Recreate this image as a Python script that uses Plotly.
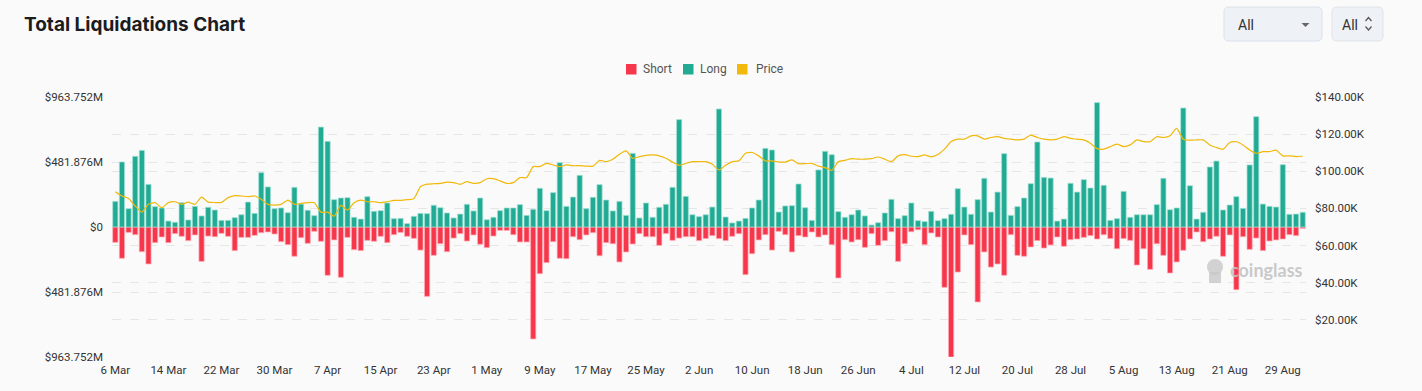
import pandas as pd
import plotly.graph_objects as go

# ---------------- data ----------------
start_date = "2025-03-06"
end_date = "2025-09-01"
dates = pd.date_range(start_date, end_date, freq="D")
categories = [d.strftime("%Y-%m-%d") for d in dates]
day_labels = [f"{d.day} {d.strftime('%b')}" for d in dates]

# Long liquidations (millions USD)
long_mar = [190, 482, 136, 524, 568, 316, 151, 141, 44, 35, 180, 52, 153, 82, 146, 126, 49, 49, 69, 91, 185, 101, 403, 297, 136, 141]
long_apr = [106, 294, 170, 124, 84, 741, 635, 203, 215, 217, 72, 59, 225, 116, 121, 178, 62, 64, 25, 79, 101, 99, 161, 143, 104, 67, 96, 168, 119, 215]
long_may = [54, 72, 121, 141, 141, 166, 86, 131, 287, 121, 255, 477, 153, 222, 383, 136, 220, 314, 200, 119, 190, 86, 546, 67, 178, 72, 146, 168, 294, 796, 227]
long_jun = [91, 77, 91, 148, 875, 74, 30, 44, 64, 141, 200, 583, 571, 111, 156, 158, 319, 143, 49, 423, 561, 536, 114, 72, 91, 126, 82, 15, 32, 104]
long_jul = [205, 62, 84, 178, 47, 40, 116, 47, 62, 94, 284, 148, 94, 203, 361, 111, 259, 544, 86, 151, 215, 321, 630, 368, 363, 44, 59, 324, 259, 351, 289]
long_aug = [922, 309, 49, 62, 264, 72, 91, 91, 91, 166, 361, 128, 141, 882, 306, 59, 109, 445, 489, 126, 163, 225, 138, 460, 818, 170, 153, 148, 462, 94, 96, 109]

# Short liquidations (millions USD)
short_mar = [114, 232, 40, 57, 183, 274, 116, 74, 116, 49, 69, 101, 59, 255, 67, 72, 47, 69, 175, 77, 77, 62, 42, 37, 52, 109]
short_apr = [131, 217, 79, 121, 32, 106, 358, 96, 373, 77, 168, 175, 99, 106, 69, 116, 57, 40, 69, 84, 171, 514, 210, 124, 183, 82, 49, 104, 59, 128]
short_may = [153, 67, 25, 25, 57, 111, 111, 830, 346, 264, 109, 232, 235, 72, 94, 59, 42, 213, 116, 124, 259, 185, 126, 49, 72, 72, 136, 49, 99, 82, 72]
short_jun = [72, 101, 86, 64, 86, 101, 69, 49, 353, 198, 96, 57, 171, 32, 57, 185, 64, 74, 37, 74, 59, 131, 378, 94, 111, 94, 151, 49, 136, 101]
short_jul = [35, 255, 124, 35, 20, 131, 44, 74, 447, 963.752, 334, 59, 131, 556, 185, 297, 274, 358, 57, 210, 217, 148, 101, 156, 133, 74, 143, 94, 89, 77, 64]
short_aug = [89, 57, 86, 161, 86, 99, 282, 161, 314, 124, 210, 341, 259, 173, 89, 37, 109, 89, 69, 217, 59, 465, 72, 166, 82, 175, 104, 96, 89, 57, 64, 10]

# BTC price (thousands USD)
price_mar = [89.0, 86.7, 85.4, 81.3, 78.0, 82.2, 83.1, 80.4, 83.1, 83.6, 82.2, 83.4, 82.2, 86.1, 83.4, 83.2, 83.2, 85.8, 86.9, 86.7, 86.3, 86.7, 84.9, 82.2, 81.8, 82.2]
price_apr = [84.5, 82.2, 82.7, 83.1, 83.1, 78.0, 78.0, 75.8, 81.6, 79.1, 83.1, 84.5, 83.6, 83.6, 83.1, 83.6, 84.3, 84.3, 84.7, 85.2, 91.7, 93.1, 93.3, 93.5, 94.2, 93.9, 93.0, 94.4, 93.5, 93.9]
price_may = [96.0, 96.0, 94.8, 93.5, 93.9, 96.6, 96.6, 102.5, 102.5, 104.3, 103.4, 102.5, 103.4, 103.0, 103.0, 102.8, 102.8, 105.9, 105.2, 106.5, 109.2, 111.0, 107.0, 107.9, 108.6, 108.8, 108.3, 107.0, 105.0, 103.2, 104.3]
price_jun = [105.2, 105.2, 105.2, 103.8, 100.7, 103.2, 105.2, 105.6, 109.7, 110.1, 108.3, 105.6, 105.6, 105.0, 105.0, 106.1, 104.1, 104.1, 104.3, 102.8, 102.0, 100.5, 105.2, 105.9, 106.8, 106.5, 106.5, 106.8, 107.7, 106.5]
price_jul = [105.2, 108.3, 109.0, 108.1, 107.9, 108.8, 107.8, 109.0, 111.9, 116.0, 117.3, 117.3, 119.1, 119.1, 117.3, 118.2, 118.7, 117.7, 117.3, 116.9, 117.3, 119.5, 118.2, 117.3, 116.9, 117.3, 118.7, 117.7, 117.3, 116.9, 115.1]
price_aug = [112.2, 111.9, 113.3, 114.6, 113.3, 114.2, 116.9, 116.0, 115.9, 118.6, 118.2, 119.1, 123.1, 117.3, 116.8, 116.9, 116.9, 114.2, 112.8, 111.9, 115.5, 115.9, 114.2, 111.5, 109.7, 110.6, 110.6, 111.4, 108.3, 108.3, 107.9, 108.1]

long_vals = long_mar + long_apr + long_may + long_jun + long_jul + long_aug
short_vals = short_mar + short_apr + short_may + short_jun + short_jul + short_aug
price_vals = price_mar + price_apr + price_may + price_jun + price_jul + price_aug

left_max = 963.752
left_ticks = [-963.752, -481.876, 0, 481.876, 963.752]
left_text = ["$963.752M", "$481.876M", "$0", "$481.876M", "$963.752M"]
right_ticks = [20, 40, 60, 80, 100, 120, 140]
right_text = ["$20.00K", "$40.00K", "$60.00K", "$80.00K", "$100.00K", "$120.00K", "$140.00K"]

x_tickvals = categories[::8]
x_ticktext = day_labels[::8]

legend_names = ["Short", "Long", "Price"]

# ---------------- styling ----------------
W, H = 1422, 391
ML, MR, MT, MB = 112, 116, 97, 34
PW, PH = W - ML - MR, H - MT - MB
BG = "#fafafa"
RED = "#F6364A"
TEAL = "#22AB94"
GOLD = "#F0B90B"
GRID = "#e6e6e6"
TICK_FONT = dict(family="Roboto", size=11.5, color="#333333")


def px2x(px):
    return (px - ML) / PW


def py2y(py):
    return (H - MB - py) / PH


def rr_path(x0, y0, x1, y1, r):
    p = lambda x, y: f"{px2x(x):.5f},{py2y(y):.5f}"
    return (f"M{p(x0 + r, y0)} L{p(x1 - r, y0)} Q{p(x1, y0)} {p(x1, y0 + r)} "
            f"L{p(x1, y1 - r)} Q{p(x1, y1)} {p(x1 - r, y1)} L{p(x0 + r, y1)} "
            f"Q{p(x0, y1)} {p(x0, y1 - r)} L{p(x0, y0 + r)} Q{p(x0, y0)} {p(x0 + r, y0)} Z")


fig = go.Figure()
fig.add_trace(go.Bar(
    x=categories, y=[-v for v in short_vals], name=legend_names[0],
    marker=dict(color=RED, line=dict(color="rgba(255,170,180,0.9)", width=0.8)),
    yaxis="y"))
fig.add_trace(go.Bar(
    x=categories, y=long_vals, name=legend_names[1],
    marker=dict(color=TEAL, line=dict(color="rgba(160,225,212,0.9)", width=0.8)),
    yaxis="y"))
fig.add_trace(go.Scatter(
    x=categories, y=price_vals, name=legend_names[2], mode="lines",
    line=dict(color=GOLD, width=1.2, shape="spline", smoothing=0.6),
    yaxis="y2"))

shapes = [
    dict(type="path", xref="paper", yref="paper", path=rr_path(1224, 7, 1322, 41, 5),
         fillcolor="#eef1f5", line=dict(color="#d9e2ec", width=1)),
    dict(type="path", xref="paper", yref="paper", path=rr_path(1332, 7, 1383, 41, 5),
         fillcolor="#eef1f5", line=dict(color="#dfe3e8", width=1)),
    dict(type="path", xref="paper", yref="paper",
         path=f"M{px2x(1301.5)},{py2y(23)} L{px2x(1309.5)},{py2y(23)} L{px2x(1305.5)},{py2y(27)} Z",
         fillcolor="#666666", line=dict(width=0)),
    dict(type="path", xref="paper", yref="paper",
         path=f"M{px2x(1365.5)},{py2y(21)} L{px2x(1368.5)},{py2y(17.5)} L{px2x(1371.5)},{py2y(21)}",
         line=dict(color="#555555", width=1.2)),
    dict(type="path", xref="paper", yref="paper",
         path=f"M{px2x(1365.5)},{py2y(26.5)} L{px2x(1368.5)},{py2y(30)} L{px2x(1371.5)},{py2y(26.5)}",
         line=dict(color="#555555", width=1.2)),
    # watermark logo (simplified)
    dict(type="circle", xref="paper", yref="paper",
         x0=px2x(1207), x1=px2x(1223), y0=py2y(275), y1=py2y(259),
         fillcolor="rgba(200,200,200,0.8)", line=dict(width=0)),
    dict(type="rect", xref="paper", yref="paper",
         x0=px2x(1209), x1=px2x(1221), y0=py2y(283), y1=py2y(272),
         fillcolor="rgba(200,200,200,0.8)", line=dict(width=0)),
]

annotations = [
    dict(text="<b>Total Liquidations Chart</b>", xref="paper", yref="paper",
         x=px2x(22), y=py2y(24), xanchor="left", yanchor="middle", showarrow=False,
         font=dict(family="Inter", size=19, color="#1c1c1e")),
    dict(text="All", xref="paper", yref="paper", x=px2x(1236), y=py2y(24.5),
         xanchor="left", yanchor="middle", showarrow=False,
         font=dict(family="Roboto", size=14, color="#333333")),
    dict(text="All", xref="paper", yref="paper", x=px2x(1340), y=py2y(24.5),
         xanchor="left", yanchor="middle", showarrow=False,
         font=dict(family="Roboto", size=14, color="#333333")),
    dict(text="<b>coinglass</b>", xref="paper", yref="paper", x=px2x(1228), y=py2y(270),
         xanchor="left", yanchor="middle", showarrow=False,
         font=dict(family="Lato", size=18, color="rgba(195,195,195,0.9)")),
]

# custom legend (square swatches, tight spacing as in the reference)
legend_items = [(legend_names[0], RED, 626, 641), (legend_names[1], TEAL, 683, 698),
                (legend_names[2], GOLD, 737, 754)]
for name, col, sx, tx in legend_items:
    shapes.append(dict(type="rect", xref="paper", yref="paper",
                       x0=px2x(sx), x1=px2x(sx + 10.5), y0=py2y(74.5), y1=py2y(64),
                       fillcolor=col, line=dict(width=0)))
    annotations.append(dict(text=name, xref="paper", yref="paper", x=px2x(tx), y=py2y(69.5),
                            xanchor="left", yanchor="middle", showarrow=False,
                            font=dict(family="Roboto", size=12, color="#555555")))

fig.update_layout(
    width=W, height=H,
    margin=dict(l=ML, r=MR, t=MT, b=MB, pad=0),
    paper_bgcolor=BG, plot_bgcolor=BG,
    barmode="relative", bargap=0.22,
    showlegend=False,
    xaxis=dict(type="category", categoryorder="array", categoryarray=categories,
               tickmode="array", tickvals=x_tickvals, ticktext=x_ticktext,
               showgrid=False, zeroline=False, showline=False, ticks="",
               tickangle=0, tickfont=TICK_FONT, ticklabelstandoff=4,
               range=[-0.5, len(categories) - 0.5]),
    yaxis=dict(range=[-left_max, left_max], tickmode="array", tickvals=left_ticks,
               ticktext=left_text, showgrid=True, gridcolor=GRID, griddash="dash",
               gridwidth=1, zeroline=False, showline=False, ticks="",
               tickfont=TICK_FONT, ticklabelstandoff=8),
    yaxis2=dict(range=[0, 140], overlaying="y", side="right", tickmode="array",
                tickvals=right_ticks, ticktext=right_text, showgrid=True,
                gridcolor=GRID, griddash="dash", gridwidth=1, zeroline=False,
                showline=False, ticks="", tickfont=TICK_FONT, ticklabelstandoff=8),
    shapes=shapes,
    annotations=annotations,
    hovermode=False,
)

fig.write_html(
    "out.html",
    config={"displayModeBar": False},
    post_script="document.body.style.margin='0';document.body.style.padding='0';"
                "document.body.style.background='#fafafa';",
)
